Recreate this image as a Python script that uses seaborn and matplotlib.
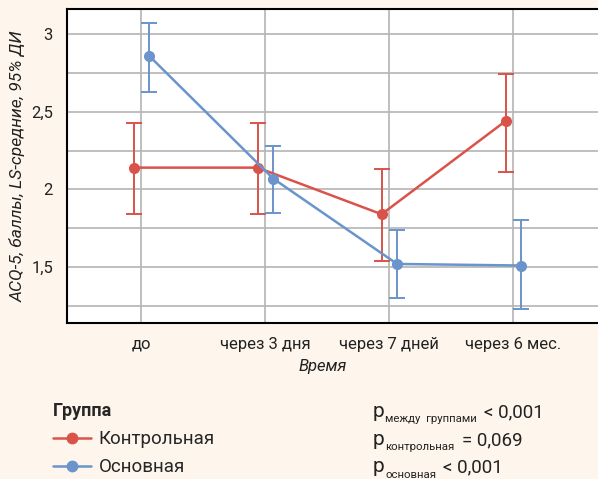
import matplotlib
matplotlib.use("Agg")
import matplotlib.pyplot as plt
from matplotlib.lines import Line2D
from matplotlib.ticker import MultipleLocator, FuncFormatter
import numpy as np
import pandas as pd
import seaborn as sns

# Time points and groups
timepoints = ["до", "через 3 дня", "через 7 дней", "через 6 мес."]
groups = ["Контрольная", "Основная"]

# LS-means and 95% CI per group
control_mean = [2.14, 2.14, 1.84, 2.44]
control_low = [1.84, 1.84, 1.54, 2.11]
control_high = [2.43, 2.43, 2.13, 2.74]

main_mean = [2.86, 2.07, 1.52, 1.51]
main_low = [2.63, 1.85, 1.30, 1.23]
main_high = [3.07, 2.28, 1.74, 1.80]

p_labels = ["между  группами", "контрольная", "основная"]
p_values = ["< 0,001", "= 0,069", "< 0,001"]

colors = {"Контрольная": "#D9534A", "Основная": "#6A94CB"}
offsets = {"Контрольная": -0.06, "Основная": 0.065}

rows = []
for g, m, lo, hi in [("Контрольная", control_mean, control_low, control_high),
                     ("Основная", main_mean, main_low, main_high)]:
    for i, t in enumerate(timepoints):
        rows.append({"Время": t, "pos": i + offsets[g], "Группа": g,
                     "mean": m[i], "low": lo[i], "high": hi[i]})
df = pd.DataFrame(rows)

sns.set_theme(style="white")
plt.rcParams["font.family"] = ["Roboto", "DejaVu Sans"]

txt_c = "#222222"
bg = "#FEF6EC"
fig = plt.figure(figsize=(5.98, 4.79), dpi=100, facecolor=bg)
ax = fig.add_axes([67 / 598, 1 - 323 / 479, 1 - 67 / 598, (323 - 9) / 479])
ax.set_facecolor("white")

grid_c = "#B4B4B4"
ax.set_axisbelow(True)
ax.yaxis.set_major_locator(MultipleLocator(0.5))
ax.yaxis.set_minor_locator(MultipleLocator(0.25))
ax.grid(which="both", axis="y", color=grid_c, lw=1.2)
ax.grid(which="major", axis="x", color=grid_c, lw=1.2)

sns.lineplot(data=df, x="pos", y="mean", hue="Группа", palette=colors,
             marker="o", markersize=8, markeredgewidth=0, linewidth=1.8,
             legend=False, ax=ax, zorder=3)

for g in groups:
    sub = df[df["Группа"] == g]
    ax.errorbar(sub["pos"], sub["mean"],
                yerr=[sub["mean"] - sub["low"], sub["high"] - sub["mean"]],
                fmt="none", ecolor=colors[g], elinewidth=1.4, capsize=5.5,
                capthick=1.4, zorder=2)

ax.set_xlim(-0.597, 3.685)
ax.set_ylim(1.14, 3.161)
ax.set_xticks(range(len(timepoints)))
ax.set_xticklabels(timepoints)
ax.yaxis.set_major_formatter(FuncFormatter(lambda v, _: f"{v:g}".replace(".", ",")))
ax.tick_params(axis="both", which="major", length=5, width=1.2, color="black",
               labelsize=12, labelcolor=txt_c, direction="out", pad=5)
ax.tick_params(axis="y", which="minor", length=0)
for side in ["left", "top", "bottom"]:
    ax.spines[side].set_color("black")
    ax.spines[side].set_linewidth(1.5)
ax.spines["right"].set_visible(False)

ax.set_xlabel("")
ax.set_ylabel("ACQ-5, баллы, LS-средние, 95% ДИ", fontsize=12.5,
              fontstyle="italic", color=txt_c, labelpad=4)
fig.text(323 / 598, 1 - 367 / 479, "Время", fontsize=12, fontstyle="italic",
         color=txt_c, ha="center", va="center")

# Legend
handles = [Line2D([0], [0], color=colors[g], marker="o", markersize=7.5, lw=1.8)
           for g in groups]
leg = fig.legend(handles, groups, title="Группа", loc="upper left",
                 bbox_to_anchor=(36 / 598, 1 - 385 / 479), frameon=False,
                 fontsize=13.5, title_fontproperties={"weight": "bold", "size": 13},
                 alignment="left", handlelength=2.05, handletextpad=0.4,
                 labelspacing=0.55)

# p-values with subscripts
fig.canvas.draw()
renderer = fig.canvas.get_renderer()
base_y = [417, 445, 472]
for lbl, val, yb in zip(p_labels, p_values, base_y):
    yf = 1 - yb / 479
    t1 = fig.text(373 / 598, yf, "p", fontsize=15, color=txt_c, va="baseline")
    bb = t1.get_window_extent(renderer)
    t2 = fig.text(bb.x1 / 598 + 0.5 / 598, yf - 5.5 / 479, lbl, fontsize=8.2,
                  color=txt_c, va="baseline")
    bb2 = t2.get_window_extent(renderer)
    fig.text(bb2.x1 / 598 + 7 / 598, yf, val, fontsize=13.5, color=txt_c,
             va="baseline")

fig.savefig("out.png", dpi=100, facecolor=bg)
